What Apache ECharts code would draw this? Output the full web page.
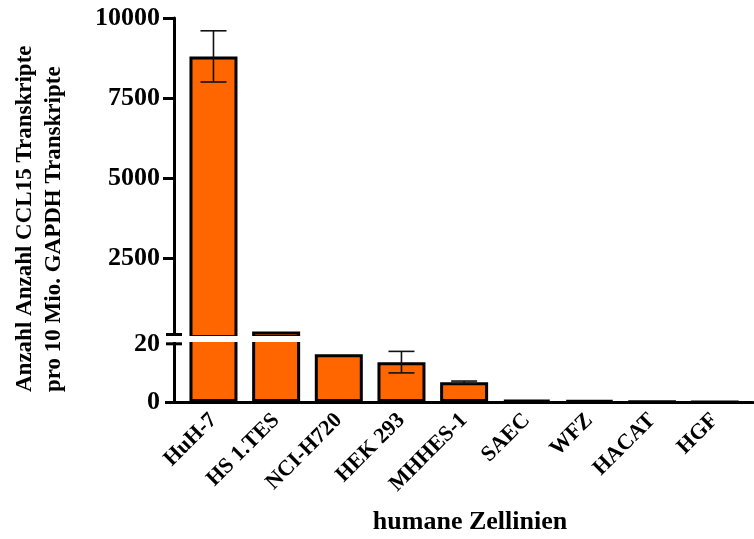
<!DOCTYPE html>
<html>
<head>
<meta charset="utf-8">
<script src="https://cdn.jsdelivr.net/npm/echarts@6/dist/echarts.min.js"></script>
<style>
  html, body { margin: 0; padding: 0; background: #fff; }
  #chart { width: 754px; height: 539px; }
</style>
</head>
<body>
<div id="chart"></div>
<script>
// Cell lines and CCL15 transcript counts (per 10 Mio. GAPDH transcripts)
const categories = ['HuH-7', 'HS 1.TES', 'NCI-H720', 'HEK 293', 'MHHES-1', 'SAEC', 'WFZ', 'HACAT', 'HGF'];
const means = [8800, 200, 16.4, 13.7, 6.8, 0.7, 0.5, 0.1, 0.05];
const errors = [800, 0, 0, 3.7, 0.4, 0, 0, 0, 0];

// Tick labels of the two y-axis segments
const upperTicks = [2500, 5000, 7500, 10000];
const lowerTicks = [0, 20];

// Axis segment ranges
const UPPER_MAX = 10000;
const LOWER_MAX = 22;

// Layout
const AXIS_X = 174;
const UPPER_TOP = 18, UPPER_H = 320;
const LOWER_TOP = UPPER_TOP + UPPER_H, LOWER_H = 64;
const X_MIN = -0.63, X_MAX = 8.61;

const FONT = "'Liberation Serif', 'Times New Roman', serif";
const ORANGE = '#FF6600';

const barData = means.map((v, i) => [i, v]);
const errData = means.map((v, i) => [i, v - errors[i], v + errors[i]]).filter((d, i) => errors[i] > 0);
const upperErr = errData.filter(d => means[d[0]] > LOWER_MAX);
const lowerErr = errData.filter(d => means[d[0]] <= LOWER_MAX);

function renderErrorBar(params, api) {
  const x = api.value(0);
  const lo = api.coord([x, api.value(1)]);
  const hi = api.coord([x, api.value(2)]);
  const half = 13;
  const style = { stroke: '#111', lineWidth: 1.6 };
  return {
    type: 'group',
    children: [
      { type: 'line', shape: { x1: hi[0], y1: hi[1], x2: lo[0], y2: lo[1] }, style },
      { type: 'line', shape: { x1: hi[0] - half, y1: hi[1], x2: hi[0] + half, y2: hi[1] }, style },
      { type: 'line', shape: { x1: lo[0] - half, y1: lo[1], x2: lo[0] + half, y2: lo[1] }, style }
    ]
  };
}

const axisLineStyle = { color: '#000', width: 3 };
const tickLabelStyle = {
  color: '#000', fontFamily: FONT, fontWeight: 'bold', fontSize: 26,
  formatter: (v) => String(v)
};

const barSeries = (idx) => ({
  type: 'bar',
  xAxisIndex: idx,
  yAxisIndex: idx,
  data: barData,
  barWidth: 48,
  clip: true,
  itemStyle: { color: ORANGE, borderColor: '#000', borderWidth: 3 },
  z: 2
});

const chart = echarts.init(document.getElementById('chart'), null, { renderer: 'canvas' });

chart.setOption({
  backgroundColor: '#fff',
  animation: false,
  grid: [
    { left: AXIS_X, right: 1, top: UPPER_TOP, height: UPPER_H },
    { left: AXIS_X, right: 1, top: LOWER_TOP, height: LOWER_H }
  ],
  xAxis: [
    { type: 'value', gridIndex: 0, min: X_MIN, max: X_MAX, show: false },
    {
      type: 'value', gridIndex: 1, min: X_MIN, max: X_MAX,
      splitLine: { show: false },
      axisLine: { show: true, onZero: false, lineStyle: axisLineStyle },
      axisTick: { show: false },
      axisLabel: {
        customValues: categories.map((c, i) => i),
        formatter: (v) => categories[Math.round(v)],
        rotate: 45,
        margin: 15,
        color: '#000', fontFamily: FONT, fontWeight: 'bold', fontSize: 22
      }
    }
  ],
  yAxis: [
    {
      type: 'value', gridIndex: 0, min: 0, max: UPPER_MAX,
      splitLine: { show: false },
      axisLine: { show: true, onZero: false, lineStyle: axisLineStyle },
      axisTick: { show: true, length: 11, lineStyle: { width: 3, color: '#000' }, customValues: upperTicks },
      axisLabel: Object.assign({ customValues: upperTicks, margin: 14 }, tickLabelStyle)
    },
    {
      type: 'value', gridIndex: 1, min: 0, max: LOWER_MAX,
      splitLine: { show: false },
      axisLine: { show: true, onZero: false, lineStyle: axisLineStyle },
      axisTick: { show: true, length: 9, lineStyle: { width: 3, color: '#000' }, customValues: [0] },
      axisLabel: Object.assign({ customValues: lowerTicks, margin: 14 }, tickLabelStyle)
    }
  ],
  series: [
    barSeries(0),
    barSeries(1),
    { type: 'custom', xAxisIndex: 0, yAxisIndex: 0, data: upperErr, renderItem: renderErrorBar, z: 3 },
    { type: 'custom', xAxisIndex: 1, yAxisIndex: 1, data: lowerErr, renderItem: renderErrorBar, z: 3 }
  ]
});

// Axis break: a white band across the join of the two segments, with a dash on each side
const joinY = LOWER_TOP;
const y20 = chart.convertToPixel({ yAxisIndex: 1 }, 20);
const dash = (y) => ({
  type: 'line', z: 101,
  shape: { x1: AXIS_X - 8, y1: y, x2: AXIS_X + 8, y2: y },
  style: { stroke: '#000', lineWidth: 3 }
});

chart.setOption({
  graphic: [
    {
      type: 'rect', z: 100,
      shape: { x: AXIS_X - 12, y: joinY - 2, width: 754 - AXIS_X + 12, height: 6 },
      style: { fill: '#fff' }
    },
    dash(joinY - 3.5),
    dash(y20),
    {
      type: 'text', z: 100,
      x: 40, y: 392, rotation: Math.PI / 2,
      style: {
        text: 'Anzahl Anzahl CCL15 Transkripte\npro 10 Mio. GAPDH Transkripte',
        font: 'bold 23px ' + FONT,
        lineHeight: 29,
        fill: '#000',
        align: 'left',
        verticalAlign: 'middle'
      }
    },
    {
      type: 'text', z: 100,
      x: 470, y: 522,
      style: {
        text: 'humane Zellinien',
        font: 'bold 26px ' + FONT,
        fill: '#000',
        align: 'center',
        verticalAlign: 'middle'
      }
    }
  ]
});
</script>
</body>
</html>
